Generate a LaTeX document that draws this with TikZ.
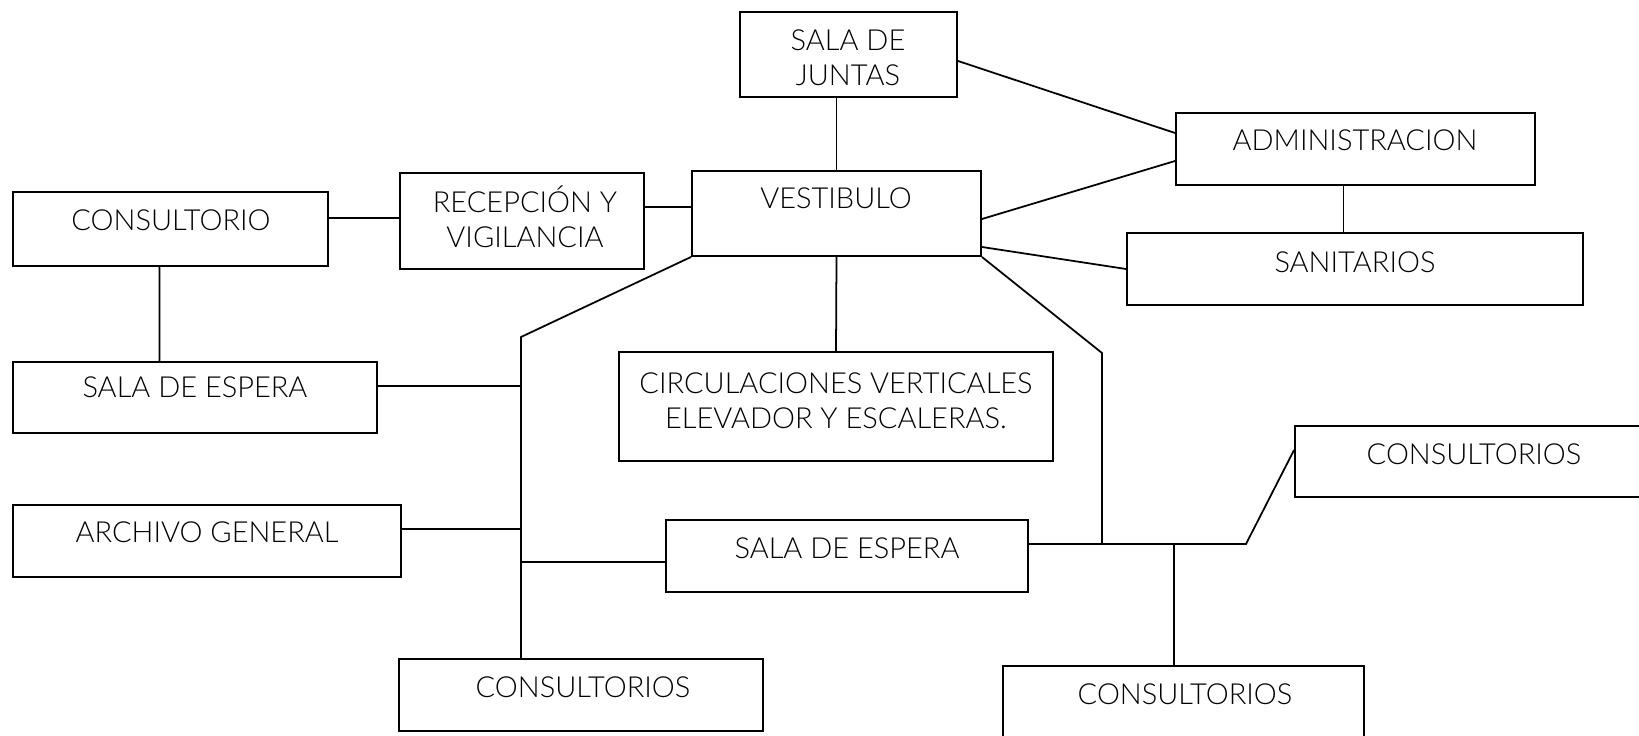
\documentclass[tikz,border=0pt]{standalone}
\usepackage{fontspec}
\setmainfont{Lato}[UprightFont=* Light]
\usetikzlibrary{positioning,calc}
\tikzset{
  room/.style 2 args={draw, line width=1.1pt, minimum width=#1*0.02cm, minimum height=#2*0.02cm, inner sep=0pt},
  rtext/.style={font=\fontsize{16.5}{20}\selectfont, align=center, inner sep=0pt},
  rlink/.style={line width=1pt}
}
\begin{document}
\begin{tikzpicture}[x=0.02cm,y=-0.02cm]
\useasboundingbox (0,0) rectangle (1639,736);
% rooms
\node[room={217}{85}] (juntas) at (848.5,54.5) {};
\node[room={359}{72}] (adm) at (1355.5,149) {};
\node[room={289}{85}] (vest) at (836.5,213.5) {};
\node[room={456}{72}] (san) at (1355,269) {};
\node[room={315}{74}] (cons) at (170.5,229) {};
\node[room={244}{96}] (recep) at (522,221) {};
\node[room={364}{71}] (esperaA) at (195,397.5) {};
\node[room={434}{109}] (circ) at (836,406.5) {};
\node[room={358}{71}] (consR) at (1474,461.5) {};
\node[room={388}{72}] (archivo) at (207,541) {};
\node[room={362}{72}] (esperaB) at (847,556) {};
\node[room={364}{72}] (consBL) at (581,695) {};
\node[room={361}{72}] (consBR) at (1183.5,702) {};
% labels
\node[rtext] (juntas-t) at (848,57.5) {SALA DE\\JUNTAS};
\node[rtext] (adm-t) at (1355,140) {ADMINISTRACION};
\node[rtext] (vest-t) at (836,198) {VESTIBULO};
\node[rtext] (san-t) at (1355,262) {SANITARIOS};
\node[rtext] (cons-t) at (171,220) {CONSULTORIO};
\node[rtext] (recep-t) at (525,217) {RECEPCIÓN Y\\VIGILANCIA};
\node[rtext] (esperaA-t) at (195,387) {SALA DE ESPERA};
\node[rtext] (circ-t) at (836,401) {CIRCULACIONES VERTICALES\\ELEVADOR Y ESCALERAS.};
\node[rtext] (consR-t) at (1474,454) {CONSULTORIOS};
\node[rtext] (archivo-t) at (207,532) {ARCHIVO GENERAL};
\node[rtext] (esperaB-t) at (847,548) {SALA DE ESPERA};
\node[rtext] (consBL-t) at (583,687) {CONSULTORIOS};
\node[rtext] (consBR-t) at (1185,694) {CONSULTORIOS};
% junctions
\coordinate (tl) at (521,337);
\coordinate (tr) at (1102,353);
\coordinate (jr) at (1246,544);
\coordinate (ea) at ([yshift=0.23cm]esperaA.east);
\coordinate (ar) at ([yshift=0.24cm]archivo.east);
\coordinate (ebl) at ([yshift=-0.12cm]esperaB.west);
\coordinate (ebr) at ([yshift=0.24cm]esperaB.east);
\coordinate (cb) at ([xshift=-0.19cm]consBR.north);
\coordinate (as) at ([xshift=-0.24cm]adm.south);
% connectors
\draw[rlink] (vest.north) -- (vest.north |- juntas.south);
\draw[rlink] ([yshift=-0.13cm]juntas.east) -- ([yshift=0.32cm]adm.west);
\draw[rlink] ([yshift=-0.11cm]vest.east) -- ([yshift=-0.24cm]adm.west);
\draw[rlink] ([yshift=-0.67cm]vest.east) -- (san.west);
\draw[rlink] (as) -- (as |- san.north);
\draw[rlink] ([yshift=0.22cm]cons.east) -- ([yshift=0.06cm]recep.west);
\draw[rlink] ([yshift=0.28cm]recep.east) -- ([yshift=0.13cm]vest.west);
\draw[rlink] ([xshift=-0.22cm]cons.south) -- ([xshift=-0.71cm]esperaA.north);
\draw[rlink] (vest.south) -- (circ.north);
\draw[rlink] (vest.south west) -- (tl) -- (tl |- consBL.north);
\draw[rlink] (ea) -- (ea -| tl);
\draw[rlink] (ar) -- (ar -| tl);
\draw[rlink] (ebl -| tl) -- (ebl);
\draw[rlink] (vest.south east) -- (tr) -- (tr |- ebr);
\draw[rlink] (ebr) -- (jr) -- ([yshift=0.23cm]consR.west);
\draw[rlink] (cb) -- (cb |- ebr);
\end{tikzpicture}
\end{document}
